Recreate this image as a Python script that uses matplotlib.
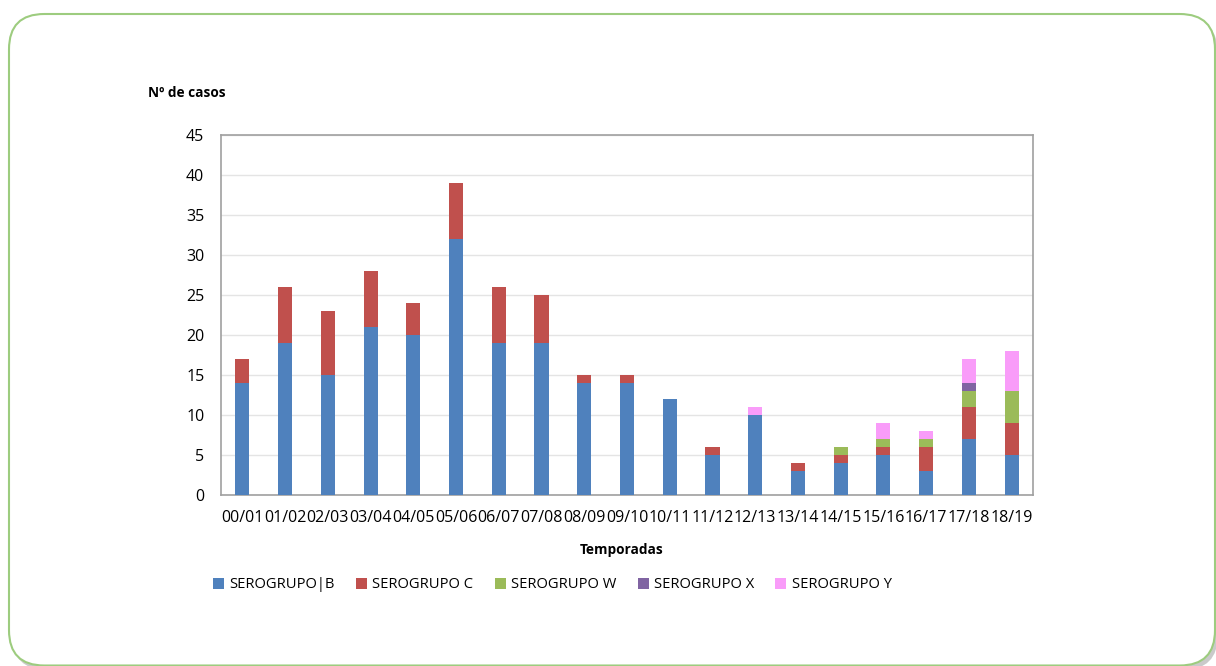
import matplotlib
matplotlib.use('Agg')
import matplotlib.pyplot as plt
from matplotlib.patches import FancyBboxPatch, Patch
import numpy

temporadas = ["00/01", "01/02", "02/03", "03/04", "04/05", "05/06", "06/07",
              "07/08", "08/09", "09/10", "10/11", "11/12", "12/13", "13/14",
              "14/15", "15/16", "16/17", "17/18", "18/19"]
sero_b = [14, 19, 15, 21, 20, 32, 19, 19, 14, 14, 12, 5, 10, 3, 4, 5, 3, 7, 5]
sero_c = [3, 7, 8, 7, 4, 7, 7, 6, 1, 1, 0, 1, 0, 1, 1, 1, 3, 4, 4]
sero_w = [0, 0, 0, 0, 0, 0, 0, 0, 0, 0, 0, 0, 0, 0, 1, 1, 1, 2, 4]
sero_x = [0, 0, 0, 0, 0, 0, 0, 0, 0, 0, 0, 0, 0, 0, 0, 0, 0, 1, 0]
sero_y = [0, 0, 0, 0, 0, 0, 0, 0, 0, 0, 0, 0, 1, 0, 0, 2, 1, 3, 5]
series_labels = ["SEROGRUPO|B", "SEROGRUPO C", "SEROGRUPO W",
                 "SEROGRUPO X", "SEROGRUPO Y"]
yticks = [0, 5, 10, 15, 20, 25, 30, 35, 40, 45]

colours = ["#4f81bd", "#c0504d", "#9bbb59", "#8064a2", "#f99cf9"]

plt.rcParams['font.family'] = ['Open Sans', 'DejaVu Sans']

W, H = 1216, 666
fig = plt.figure(figsize=(W / 100, H / 100), dpi=100)

# rounded green frame with a faint shadow at the lower right
rs = 0.029
shadow = FancyBboxPatch((12 / W, -4 / H), (1218 - 12) / W, 652 / H,
                        boxstyle="round,pad=0,rounding_size=%f" % rs,
                        transform=fig.transFigure, facecolor="#a8a8a8",
                        edgecolor="none", alpha=0.6, zorder=0,
                        mutation_aspect=W / H)
fig.patches.append(shadow)
frame = FancyBboxPatch((9 / W, 0.5 / H), (1215 - 9) / W, (652 - 0.5) / H,
                       boxstyle="round,pad=0,rounding_size=%f" % rs,
                       transform=fig.transFigure, facecolor="white",
                       edgecolor="#9dcc7f", linewidth=1.5, zorder=1,
                       mutation_aspect=W / H)
fig.patches.append(frame)

ax = fig.add_axes([221 / W, 1 - 495 / H, (1033 - 221) / W, (495 - 135) / H])
ax.set_zorder(2)
ax.patch.set_alpha(0)

x = numpy.arange(len(temporadas))
width = 0.33
bottom = numpy.zeros(len(temporadas))
for vals, col in zip([sero_b, sero_c, sero_w, sero_x, sero_y], colours):
    ax.bar(x, vals, width, bottom=bottom, color=col, zorder=3)
    bottom = bottom + numpy.array(vals)

ax.set_xlim(-0.5, len(temporadas) - 0.5)
ax.set_ylim(0, 45)
ax.set_yticks(yticks)
ax.set_xticks(x)
ax.set_xticklabels(temporadas, fontsize=11.5)
ax.tick_params(axis='y', labelsize=11.5, length=0, pad=12)
ax.tick_params(axis='x', length=0, pad=11)
ax.grid(axis='y', color="#e4e4e4", linewidth=1, zorder=0)
for s in ax.spines.values():
    s.set_color("#a0a0a0")
    s.set_linewidth(1.2)

fig.text(148 / W, 1 - 93 / H, "Nº de casos", fontsize=9.8,
         fontweight='bold', va='center', ha='left', zorder=3)
fig.text(622 / W, 1 - 550 / H, "Temporadas", fontsize=9.8,
         fontweight='bold', va='center', ha='center', zorder=3)

handles = [Patch(facecolor=c, edgecolor='none') for c in colours]
leg = fig.legend(handles, series_labels, ncol=5, frameon=False,
                 loc='center left', bbox_to_anchor=(200 / W, 1 - 585 / H),
                 fontsize=10.6, handlelength=0.75, handleheight=0.75,
                 handletextpad=0.35, columnspacing=1.45)
leg.set_zorder(3)

fig.savefig("out.png", dpi=100)
